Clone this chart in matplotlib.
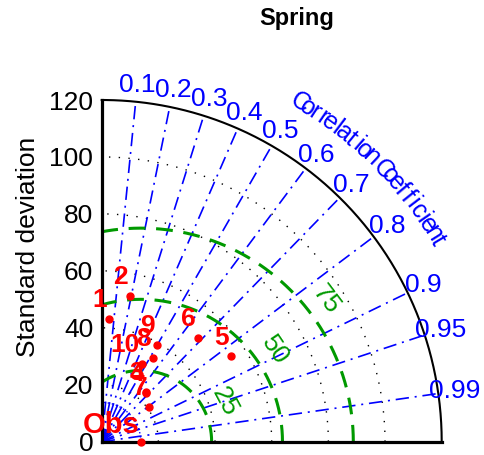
"""Taylor diagram for the Spring season: models 1-10 against observations."""

import matplotlib.pyplot as plt
import numpy as np

plt.rcParams["font.family"] = ["Liberation Sans", "DejaVu Sans"]

OBS_STD = 13.8
MODEL_NAMES = ["1", "2", "3", "4", "5", "6", "7", "8", "9", "10"]
MODEL_STD = [43.3, 52.0, 23.4, 23.1, 54.7, 49.8, 20.8, 34.5, 39.2, 30.8]
MODEL_CORR = [0.062, 0.19, 0.67, 0.676, 0.837, 0.683, 0.806, 0.526, 0.50, 0.457]

CORR_TICKS = [0.1, 0.2, 0.3, 0.4, 0.5, 0.6, 0.7, 0.8, 0.9, 0.95, 0.99]
STD_ARCS = [20, 40, 60, 80, 100]
RMS_LEVELS = [25, 50, 75]
RMS_LABEL_X = [43.4, 61.0, 79.2]
RMS_LABEL_Y = [14.1, 32.3, 49.9]
RMS_LABEL_ROT = [-62, -56, -53]
STD_MAX = 120

BLUE = "#0000ff"
GREEN = "#009900"


def main() -> None:
    fig = plt.figure(figsize=(4.84, 4.55), dpi=100)
    ax = fig.add_axes([101.7 / 484, 13.3 / 455, 340 / 484, 341.7 / 455])
    ax.set_xlim(0, STD_MAX)
    ax.set_ylim(0, STD_MAX)
    for side in ["top", "right"]:
        ax.spines[side].set_visible(False)
    for side in ["left", "bottom"]:
        ax.spines[side].set_linewidth(2.3)
    ax.set_xticks([])
    ax.set_yticks(np.arange(0, 121, 20))
    ax.tick_params(axis="y", length=0, pad=6, labelsize=19)

    theta = np.linspace(0, np.pi / 2, 400)

    # std dev arcs
    for r in STD_ARCS:
        ax.plot(r * np.cos(theta), r * np.sin(theta), color="black",
                lw=1.0, linestyle=(0, (1, 6)))
    ax.plot(OBS_STD * np.cos(theta), OBS_STD * np.sin(theta), color=BLUE,
            lw=1.0, linestyle=(0, (1, 2)))
    ax.plot(STD_MAX * np.cos(theta), STD_MAX * np.sin(theta), color="black",
            lw=1.5, clip_on=False)

    # correlation rays + labels
    for c in CORR_TICKS:
        a = np.arccos(c)
        ax.plot([0, STD_MAX * np.cos(a)], [0, STD_MAX * np.sin(a)],
                color=BLUE, lw=1.2, linestyle=(0, (8, 3.5, 1.2, 3.5)))
        ax.text(126 * np.cos(a), 126 * np.sin(a), f"{c:g}", color=BLUE,
                fontsize=19, ha="center", va="center", clip_on=False)

    # curved axis title
    title = "Correlation Coefficient"
    angles = np.linspace(np.radians(59.6), np.radians(30.8), len(title))
    for ch, a in zip(title, angles):
        ax.text(138 * np.cos(a), 138 * np.sin(a), ch, color=BLUE, fontsize=18,
                rotation=np.degrees(a) - 90, ha="center", va="center",
                rotation_mode="anchor", clip_on=False)

    # centred RMS arcs
    phi = np.linspace(0, np.pi, 800)
    for lev in RMS_LEVELS:
        x = OBS_STD + lev * np.cos(phi)
        y = lev * np.sin(phi)
        keep = (x >= 0) & (np.hypot(x, y) <= STD_MAX)
        x = np.where(keep, x, np.nan)
        ax.plot(x, y, color=GREEN, lw=2.2, linestyle=(0, (5.5, 3.5)))
    for lev, lx, ly, rot in zip(RMS_LEVELS, RMS_LABEL_X, RMS_LABEL_Y, RMS_LABEL_ROT):
        ax.text(lx, ly, str(lev), color=GREEN, fontsize=19, rotation=rot,
                ha="center", va="center")

    # points
    std = np.array(MODEL_STD)
    corr = np.array(MODEL_CORR)
    xs = std * corr
    ys = std * np.sin(np.arccos(corr))
    ax.plot(xs, ys, "o", color="red", ms=5, clip_on=False, zorder=5)
    for name, x, y in zip(MODEL_NAMES, xs, ys):
        ax.annotate(name, (x, y), xytext=(-1.5, 5), textcoords="offset points",
                    ha="right", va="bottom", color="red", fontsize=19,
                    fontweight="bold", zorder=6)
    ax.plot([OBS_STD], [0], "o", color="red", ms=5, clip_on=False, zorder=5)
    ax.annotate("Obs", (OBS_STD, 0), xytext=(-1, 2), textcoords="offset points",
                ha="right", va="bottom", color="red", fontsize=21,
                fontweight="bold", zorder=6, annotation_clip=False)

    fig.text(28 / 484, 1 - 247 / 455, "Standard deviation", rotation=90,
             fontsize=19, ha="center", va="center")
    fig.text(297 / 484, 1 - 18 / 455, "Spring", fontsize=17,
             fontweight="bold", ha="center", va="center")

    fig.savefig("out.png", dpi=100)
    plt.close(fig)


if __name__ == "__main__":
    main()
